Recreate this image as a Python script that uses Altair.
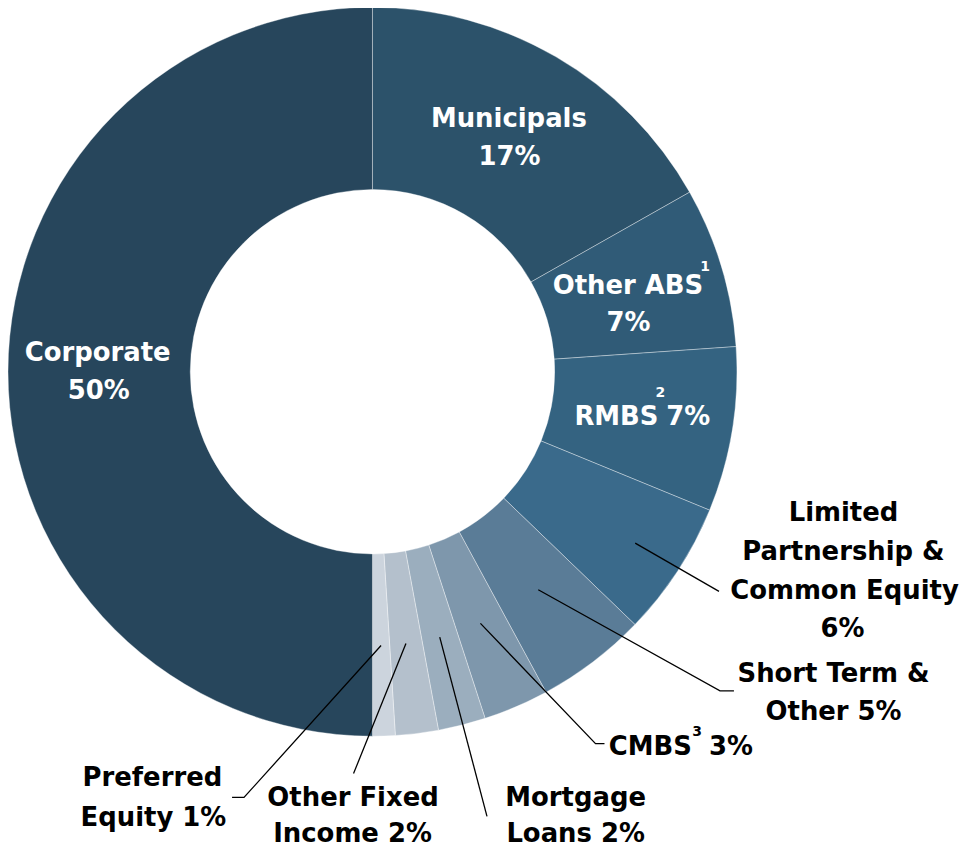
import math
import pandas as pd
import altair as alt

# ---------------- data ----------------
categories = ["Municipals", "Other ABS", "RMBS", "Limited Partnership & Common Equity",
              "Short Term & Other", "CMBS", "Mortgage Loans", "Other Fixed Income",
              "Preferred Equity", "Corporate"]
values = [16.8, 7.1, 7.3, 6.0, 4.9, 2.9, 2.1, 1.9, 1.0, 50.0]
pct_labels = ["17%", "7%", "7%", "6%", "5%", "3%", "2%", "2%", "1%", "50%"]
colors = ["#2C526A", "#305B77", "#346381", "#3A6A8B", "#5A7C97",
          "#7E97AC", "#9BAEBE", "#B4C0CC", "#CCD4DD", "#27465C"]

# ---------------- layout ----------------
W, H = 955, 842
CX, CY = 366, 363.5
R_OUT, R_IN = 366, 183
FONT = "DejaVu Sans"
FS, FS_SUP = 26, 14

# label lines: (category index, text, x, y, colour, size)
label_lines = [
    (0, "Municipals", 503, 110, "white", FS), (0, pct_labels[0], 503.5, 148, "white", FS),
    (1, "Other ABS", 622.5, 277, "white", FS), (1, "1", 700, 258, "white", FS_SUP),
    (1, pct_labels[1], 623, 315, "white", FS),
    (2, "RMBS", 611, 409, "white", FS), (2, "2", 655, 385, "white", FS_SUP),
    (2, pct_labels[2], 683, 409, "white", FS),
    (9, "Corporate", 90, 345, "white", FS), (9, pct_labels[9], 91, 383, "white", FS),
    (3, "Limited", 839, 505, "black", FS), (3, "Partnership &", 839, 545, "black", FS),
    (3, "Common Equity", 840, 584, "black", FS), (3, pct_labels[3], 838, 622, "black", FS),
    (4, "Short Term &", 829, 667, "black", FS), (4, "Other " + pct_labels[4], 829, 705, "black", FS),
    (5, "CMBS", 645, 740, "black", FS), (5, "3", 692, 725, "black", FS_SUP),
    (5, pct_labels[5], 726, 740, "black", FS),
    (6, "Mortgage", 570, 792, "black", FS), (6, "Loans " + pct_labels[6], 570, 828, "black", FS),
    (7, "Other Fixed", 346.5, 792, "black", FS), (7, "Income " + pct_labels[7], 346, 828, "black", FS),
    (8, "Preferred", 145, 772, "black", FS), (8, "Equity " + pct_labels[8], 146, 812, "black", FS),
]

# leader lines: category index -> (start radius, list of further points)
leaders = {
    3: (315, [(714, 584)]),
    4: (275, [(715, 684), (729, 684)]),
    5: (275, [(590, 737), (599, 737)]),
    6: (275, [(481, 810)]),
    7: (275, [(347, 767)]),
    8: (275, [(237, 791), (225, 791)]),
}

# ---------------- tables ----------------
df = pd.DataFrame({"category": categories, "value": values, "order": list(range(len(values)))})

total = sum(values)
cum = 0.0
mids = []
for v in values:
    mids.append((cum + v / 2) / total * 360.0)
    cum += v

rows = []
for idx, (r0, pts) in leaders.items():
    a = math.radians(mids[idx])
    sx, sy = CX + r0 * math.sin(a), CY - r0 * math.cos(a)
    seq = [(sx, sy)] + pts
    for k, (px, py) in enumerate(seq):
        rows.append({"id": categories[idx], "seq": k, "x": px, "y": py})
lines_df = pd.DataFrame(rows)

text_df = pd.DataFrame([
    {"text": t, "x": x, "y": y, "color": c, "size": s}
    for (_, t, x, y, c, s) in label_lines
])

xs = alt.Scale(domain=[0, W], range=[0, W], nice=False, zero=False)
ys = alt.Scale(domain=[0, H], range=[0, H], nice=False, zero=False)

arc = alt.Chart(df).mark_arc(
    outerRadius=R_OUT, innerRadius=R_IN, stroke="white", strokeWidth=0.8, strokeOpacity=0.45
).encode(
    theta=alt.Theta("value:Q", stack=True),
    order=alt.Order("order:Q"),
    color=alt.Color("category:N", scale=alt.Scale(domain=categories, range=colors), legend=None),
    x=alt.value(CX),
    y=alt.value(CY),
)

leader = alt.Chart(lines_df).mark_line(color="black", strokeWidth=1.3).encode(
    x=alt.X("x:Q", scale=xs, axis=None),
    y=alt.Y("y:Q", scale=ys, axis=None),
    detail="id:N",
    order="seq:Q",
)

text = alt.Chart(text_df).mark_text(
    font=FONT, fontWeight="bold", align="center", baseline="middle"
).encode(
    x=alt.X("x:Q", scale=xs, axis=None),
    y=alt.Y("y:Q", scale=ys, axis=None),
    text="text:N",
    color=alt.Color("color:N", scale=None),
    size=alt.Size("size:Q", scale=None),
)

chart = alt.layer(arc, leader, text).properties(
    width=W, height=H, padding=0, autosize=alt.AutoSizeParams(type="none")
).configure_view(stroke=None)

chart.save("out.html", embed_options={"renderer": "svg", "actions": False})
